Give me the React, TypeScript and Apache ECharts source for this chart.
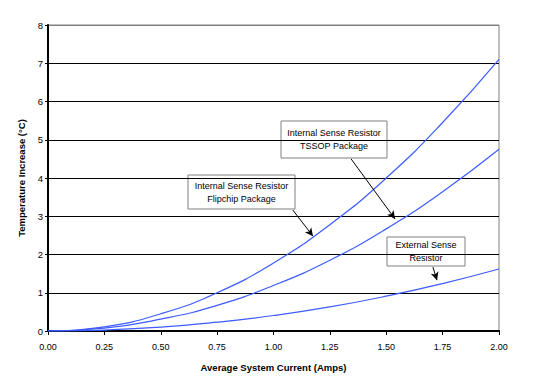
import React, { useEffect, useRef } from "react";
import * as echarts from "echarts";

const currents = [0, 0.25, 0.5, 0.75, 1.0, 1.25, 1.5, 1.75, 2.0];
const flipchip = [0, 0.11, 0.45, 1.0, 1.78, 2.78, 4.0, 5.45, 7.1];
const tssop = [0, 0.075, 0.31, 0.67, 1.19, 1.85, 2.67, 3.64, 4.75];
const external = [0, 0.025, 0.1, 0.23, 0.405, 0.63, 0.91, 1.24, 1.62];
const yTicks = [0, 1, 2, 3, 4, 5, 6, 7, 8];

const FONT = "Liberation Sans, Arial, sans-serif";
const BLUE = "#3d5cff";

const pairs = (ys: number[]) => currents.map((x, i) => [x, ys[i]]);

function box(x: number, y: number, w: number, h: number, text: string) {
  return {
    type: "group",
    x,
    y,
    children: [
      { type: "rect", shape: { x: 0, y: 0, width: w, height: h }, style: { fill: "#fff", stroke: "#808080", lineWidth: 1 } },
      {
        type: "text",
        x: w / 2,
        y: h / 2,
        style: { text, font: `9px ${FONT}`, fill: "#000", align: "center", verticalAlign: "middle", lineHeight: 13 },
      },
    ],
  };
}

const lineSeries = (name: string, ys: number[]) => ({
  type: "line",
  name,
  data: pairs(ys),
  smooth: true,
  showSymbol: false,
  lineStyle: { color: BLUE, width: 1.2 },
});

export default function App() {
  const ref = useRef<HTMLDivElement>(null);
  useEffect(() => {
    const chart = echarts.init(ref.current!, null, { renderer: "svg" });
    chart.setOption({
      animation: false,
      backgroundColor: "#fff",
      grid: { left: 48, right: 38, top: 25, bottom: 55, show: true, borderColor: "#808080", borderWidth: 1, backgroundColor: "transparent" },
      xAxis: {
        type: "value",
        min: 0,
        max: 2,
        interval: 0.25,
        name: "Average System Current (Amps)",
        nameLocation: "middle",
        nameGap: 31,
        nameTextStyle: { fontFamily: FONT, fontSize: 9.5, fontWeight: "bold", color: "#000" },
        axisLine: { show: true, lineStyle: { color: "#000", width: 2 } },
        axisTick: { show: true, length: 4, lineStyle: { color: "#000" } },
        axisLabel: { fontFamily: FONT, fontSize: 9, color: "#000", margin: 11, formatter: (v: number) => v.toFixed(2) },
        splitLine: { show: false },
      },
      yAxis: {
        type: "value",
        min: 0,
        max: 8,
        interval: 1,
        name: "Temperature Increase (°C)",
        nameLocation: "middle",
        nameGap: 14,
        nameTextStyle: { fontFamily: FONT, fontSize: 9.5, fontWeight: "bold", color: "#000" },
        axisLine: { show: true, lineStyle: { color: "#000", width: 2 } },
        axisTick: { show: true, length: 3, lineStyle: { color: "#000" } },
        axisLabel: { fontFamily: FONT, fontSize: 9.5, color: "#000", margin: 5, formatter: (v: number) => (yTicks.includes(v) ? String(v) : "") },
        splitLine: { show: true, lineStyle: { color: ["#000", "#000", "#000", "#000", "#000", "#000", "#000", "#000", "#808080"], width: 1 } },
      },
      series: [
        {
          ...lineSeries("Internal Sense Resistor Flipchip Package", flipchip),
          markLine: {
            silent: true,
            symbol: ["none", "arrow"],
            symbolSize: [6, 8],
            label: { show: false },
            lineStyle: { color: "#000", width: 1, type: "solid" },
            data: [
              [{ coord: [1.344, 4.5] }, { coord: [1.539, 2.93] }],
              [{ coord: [1.086, 3.16] }, { coord: [1.175, 2.48] }],
              [{ coord: [1.707, 1.67] }, { coord: [1.725, 1.33] }],
            ],
          },
        },
        lineSeries("Internal Sense Resistor TSSOP Package", tssop),
        lineSeries("External Sense Resistor", external),
      ],
      graphic: [
        box(281, 121, 106, 37, "Internal Sense Resistor\nTSSOP Package"),
        box(188, 175, 107, 34, "Internal Sense Resistor\nFlipchip Package"),
        box(387, 237, 78, 29, "External Sense\nResistor"),
      ],
    });
    return () => chart.dispose();
  }, []);
  return <div ref={ref} style={{ width: 537, height: 386, margin: -8 }} />;
}
